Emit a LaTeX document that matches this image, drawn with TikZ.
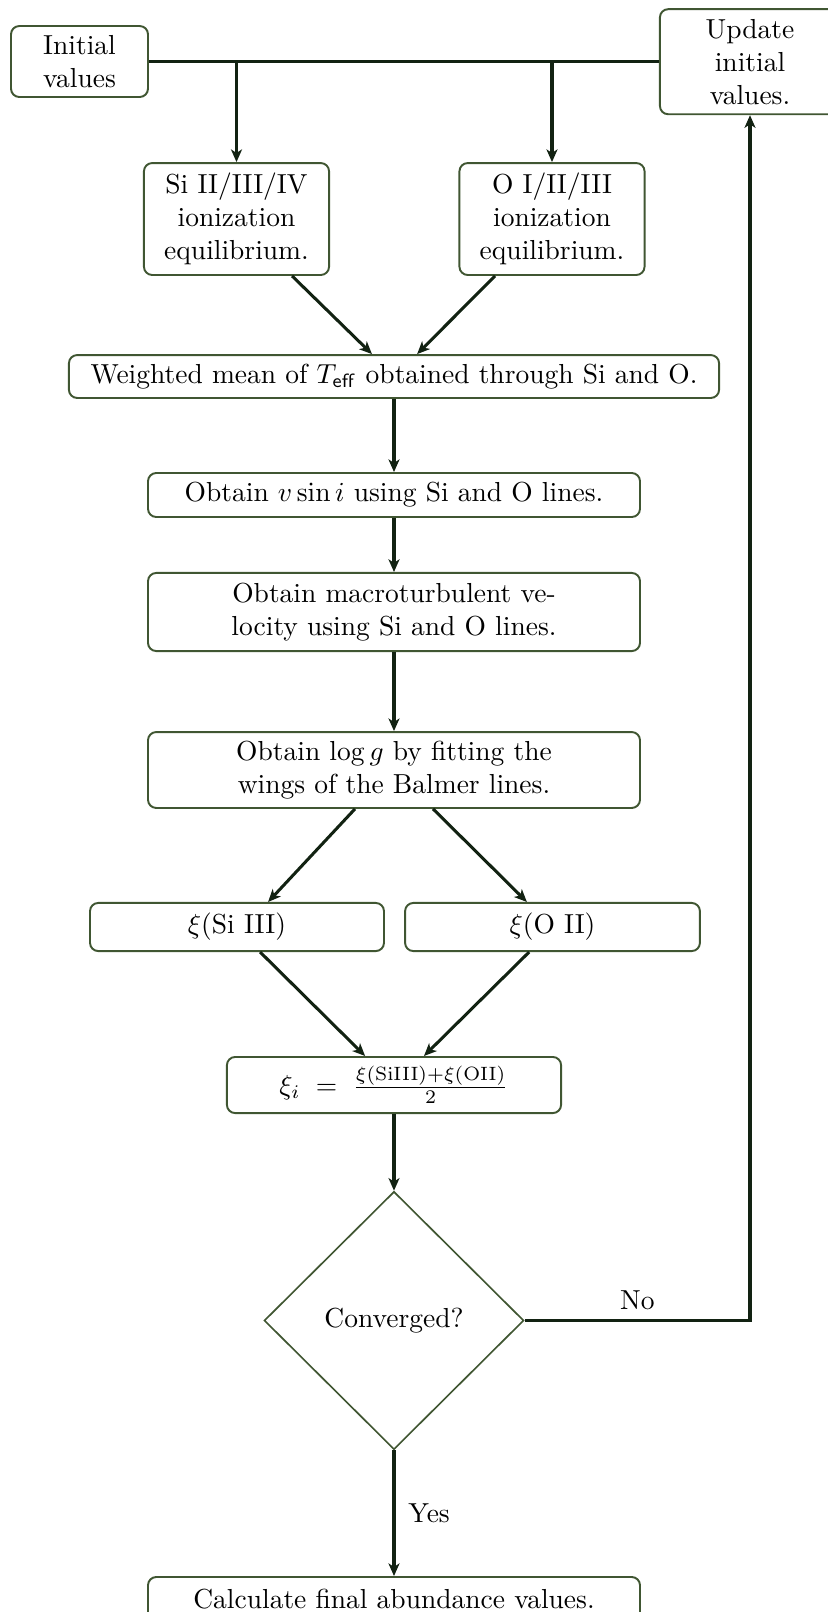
\documentclass[tikz,border=0pt]{standalone}
\usetikzlibrary{shapes.geometric,arrows.meta}
\definecolor{boxc}{RGB}{64,86,50}
\definecolor{arrc}{RGB}{18,34,18}
\begin{document}
\begin{tikzpicture}[x=0.3636pt,y=-0.3636pt,
  box/.style={draw=boxc, line width=0.7pt, rounded corners=3pt, align=center, inner sep=0pt, fill=white},
  conn/.style={draw=arrc, line width=1.1pt},
  arr/.style={conn, -{Stealth[length=4.6pt,width=4pt,inset=1.3pt]}},
  lbl/.style={inner sep=0pt}
]
\useasboundingbox (0,0) rectangle (827,1612);
\node[box, minimum width=49.8pt, minimum height=25.8pt] (init) at (79.5,61.5) {Initial\\values};
\node[box, minimum width=65.5pt, minimum height=38.2pt] (upd) at (750,61.7) {Update\\initial\\values.};
\node[box, minimum width=67.3pt, minimum height=40.7pt] (si) at (236.5,219) {Si II/III/IV\\ionization\\equilibrium.};
\node[box, minimum width=67.3pt, minimum height=40.7pt] (o) at (552,219) {O I/II/III\\ionization\\equilibrium.};
\node[box, minimum width=236.4pt, minimum height=15.6pt] (w) at (394,376.5) {Weighted mean of $T_{\mathsf{eff}}$ obtained through Si and O.};
\node[box, minimum width=178.9pt, minimum height=16pt] (vs) at (394,495) {Obtain $v\sin i$ using Si and O lines.};
\node[box, minimum width=178.9pt, minimum height=28.4pt] (mac) at (394,612) {Obtain macroturbulent ve-\\locity using Si and O lines.};
\node[box, minimum width=178.9pt, minimum height=27.6pt] (lg) at (394,770) {Obtain $\log g$ by fitting the\\wings of the Balmer lines.};
\node[box, minimum width=106.9pt, minimum height=17.5pt] (xs) at (237,927) {$\xi$(Si III)};
\node[box, minimum width=107.2pt, minimum height=17.5pt] (xo) at (552.5,927) {$\xi$(O II)};
\node[box, minimum width=121.5pt, minimum height=20.4pt] (xi) at (394,1085) {$\xi_i\;=\;\frac{\xi(\mathrm{SiIII})+\xi(\mathrm{OII})}{2}$};
\node[diamond, draw=boxc, line width=0.6pt, aspect=1, inner sep=0pt, minimum width=94.4pt, minimum height=93.8pt] (conv) at (394,1320.5) {Converged?};
\node[box, minimum width=178.9pt, minimum height=16pt] (fin) at (394,1599) {Calculate final abundance values.};

\draw[conn] (init.east) -- (init.east -| upd.west);
\draw[arr] (init.east -| si.north) -- (si.north);
\draw[arr] (init.east -| o.north) -- (o.north);
\draw[arr] ([xshift=20.2pt]si.south) -- ([xshift=-8pt]w.north);
\draw[arr] ([xshift=-20.7pt]o.south) -- ([xshift=8.4pt]w.north);
\draw[arr] (w.south) -- (vs.north);
\draw[arr] (vs.south) -- (mac.north);
\draw[arr] (mac.south) -- (lg.north);
\draw[arr] ([xshift=-14.2pt]lg.south) -- ([xshift=11.3pt]xs.north);
\draw[arr] ([xshift=14.2pt]lg.south) -- ([xshift=-9.3pt]xo.north);
\draw[arr] ([xshift=8.4pt]xs.south) -- ([xshift=-10.5pt]xi.north);
\draw[arr] ([xshift=-8.5pt]xo.south) -- ([xshift=10.9pt]xi.north);
\draw[arr] (xi.south) -- (conv.north);
\draw[arr] (conv.south) -- node[lbl, anchor=west, xshift=4.7pt] (yes) {Yes} (fin.north);
\draw[arr] (conv.east) -| node[pos=0.25, above, inner sep=3.3pt] (no) {No} (upd.south);
\end{tikzpicture}
\end{document}
